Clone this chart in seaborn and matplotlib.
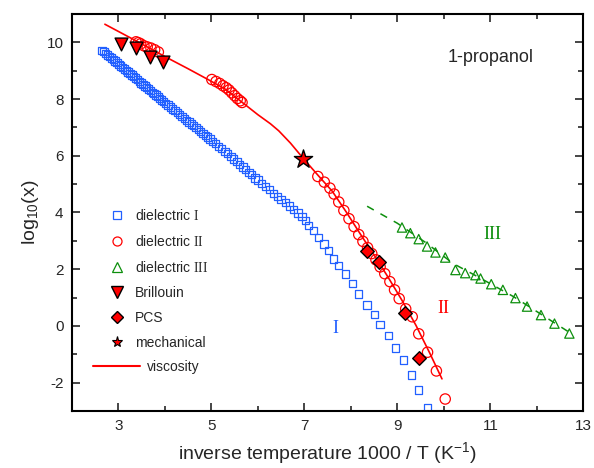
import seaborn as sns
import pandas as pd
import numpy as np
import matplotlib.pyplot as plt
from matplotlib.lines import Line2D
from matplotlib.ticker import MultipleLocator

sns.set_style("ticks")
plt.rcParams['font.family'] = ['Liberation Sans', 'DejaVu Sans']
plt.rcParams['mathtext.fontset'] = 'custom'
plt.rcParams['mathtext.rm'] = 'Liberation Serif'
plt.rcParams['mathtext.sf'] = 'Liberation Sans'
plt.rcParams['axes.unicode_minus'] = False

# dielectric I (blue open squares)
diel1_x = [2.65, 2.69, 2.73, 2.77, 2.81, 2.85, 2.89, 2.93, 2.97, 3.01, 3.05, 3.09, 3.13, 3.17,
           3.21, 3.25, 3.29, 3.33, 3.37, 3.41, 3.45, 3.49, 3.53, 3.57, 3.61, 3.65, 3.69, 3.73,
           3.77, 3.81, 3.85, 3.89, 3.93, 3.97, 4.02, 4.07, 4.12, 4.17, 4.22, 4.27, 4.32, 4.37,
           4.42, 4.47, 4.52, 4.57, 4.62, 4.67, 4.72, 4.77, 4.82, 4.87, 4.92, 4.97, 5.03, 5.09,
           5.16, 5.22, 5.29, 5.35, 5.42, 5.48, 5.55, 5.61, 5.68, 5.74, 5.81, 5.87, 5.94, 6.00,
           6.08, 6.16, 6.25, 6.33, 6.42, 6.50, 6.59, 6.68, 6.77, 6.86, 6.95, 7.02, 7.09, 7.20,
           7.31, 7.42, 7.52, 7.63, 7.74, 7.88, 8.03, 8.17, 8.35, 8.51, 8.63, 8.81, 8.96, 9.13,
           9.30, 9.45, 9.65]
diel1_y = [9.72, 9.67, 9.61, 9.56, 9.50, 9.45, 9.39, 9.34, 9.28, 9.23, 9.17, 9.12, 9.06, 9.01,
           8.96, 8.90, 8.85, 8.79, 8.74, 8.68, 8.63, 8.57, 8.52, 8.46, 8.41, 8.35, 8.30, 8.24,
           8.19, 8.14, 8.08, 8.03, 7.97, 7.92, 7.85, 7.79, 7.72, 7.65, 7.59, 7.52, 7.45, 7.39,
           7.32, 7.25, 7.19, 7.12, 7.06, 6.99, 6.92, 6.86, 6.79, 6.72, 6.66, 6.59, 6.51, 6.43,
           6.33, 6.25, 6.15, 6.07, 5.97, 5.89, 5.79, 5.70, 5.60, 5.51, 5.41, 5.33, 5.22, 5.14,
           5.03, 4.92, 4.80, 4.68, 4.56, 4.45, 4.35, 4.23, 4.10, 3.98, 3.86, 3.71, 3.53, 3.36,
           3.12, 2.89, 2.65, 2.36, 2.12, 1.83, 1.50, 1.12, 0.74, 0.39, 0.04, -0.35, -0.78, -1.20,
           -1.73, -2.26, -2.90]

# dielectric II (red open circles)
diel2_x = [3.38, 3.43, 3.48, 3.55, 3.62, 3.70, 3.78, 3.86,
           5.01, 5.10, 5.18, 5.25, 5.32, 5.38, 5.44, 5.50, 5.56, 5.62, 5.66,
           7.29, 7.43, 7.55, 7.64, 7.74, 7.85, 7.96, 8.07, 8.17, 8.26, 8.36, 8.45, 8.54,
           8.63, 8.73, 8.84, 8.94, 9.04, 9.18, 9.32, 9.46, 9.65, 9.84, 10.03]
diel2_y = [10.02, 9.99, 9.95, 9.88, 9.84, 9.80, 9.74, 9.66,
           8.69, 8.62, 8.55, 8.47, 8.40, 8.32, 8.22, 8.12, 8.02, 7.94, 7.88,
           5.27, 5.07, 4.86, 4.65, 4.37, 4.07, 3.78, 3.50, 3.22, 2.98, 2.76, 2.55, 2.33,
           2.08, 1.84, 1.56, 1.27, 0.96, 0.60, 0.32, -0.28, -0.93, -1.59, -2.58]

# dielectric III (green open triangles) and dashed guide
diel3_x = [9.10, 9.28, 9.46, 9.64, 9.82, 10.03, 10.25, 10.46, 10.68, 10.79, 11.02, 11.27,
           11.54, 11.79, 12.09, 12.38, 12.70]
diel3_y = [3.47, 3.27, 3.06, 2.80, 2.59, 2.41, 1.97, 1.86, 1.79, 1.67, 1.47, 1.27,
           0.98, 0.68, 0.38, 0.08, -0.27]
fit3_x = [8.35, 9.0, 9.6, 10.2, 10.8, 11.5, 12.1, 12.72]
fit3_y = [4.22, 3.62, 2.95, 2.2, 1.67, 1.03, 0.40, -0.25]

# Brillouin, PCS, mechanical
bril_x = [3.06, 3.37, 3.69, 3.97]
bril_y = [9.95, 9.80, 9.48, 9.30]
pcs_x = [8.35, 8.61, 9.17, 9.47]
pcs_y = [2.65, 2.24, 0.45, -1.12]
mech_x = [6.98]
mech_y = [5.90]

# viscosity (red line)
visc_x = [2.71, 3.5, 4.0, 4.5, 4.94, 5.3, 5.69, 6.0, 6.27, 6.45, 6.7, 6.98, 7.3, 7.6,
          7.9, 8.2, 8.5, 8.8, 9.1, 9.4, 9.7, 9.96]
visc_y = [10.64, 9.95, 9.5, 9.07, 8.68, 8.35, 7.85, 7.45, 7.13, 6.88, 6.45, 5.9, 5.3, 4.75,
          4.02, 3.25, 2.5, 1.72, 0.9, 0.02, -0.97, -1.87]

blue = '#2260ff'
red = '#ff0000'
green = '#0d8f0d'

fig = plt.figure(figsize=(5.94, 4.68), dpi=100)
ax = fig.add_axes([0.121, 0.122, 0.861, 0.848])

sns.scatterplot(x=diel1_x, y=diel1_y, marker='s', s=28, facecolors='none', edgecolor=blue,
                linewidth=0.9, ax=ax, zorder=2)
sns.scatterplot(x=diel2_x, y=diel2_y, marker='o', s=55, facecolors='none', edgecolor=red,
                linewidth=0.9, ax=ax, zorder=2)
sns.lineplot(x=visc_x, y=visc_y, color=red, lw=1.2, sort=False, ax=ax, zorder=3)
sns.lineplot(x=fit3_x, y=fit3_y, color=green, lw=1.1, sort=False, dashes=False, ax=ax,
             zorder=2).lines[-1].set_dashes([5, 5])
sns.scatterplot(x=diel3_x, y=diel3_y, marker='^', s=45, facecolors='none', edgecolor=green,
                linewidth=0.9, ax=ax, zorder=3)
sns.scatterplot(x=bril_x, y=bril_y, marker='v', s=85, color=red, edgecolor='black',
                linewidth=1.0, ax=ax, zorder=4)
sns.scatterplot(x=pcs_x, y=pcs_y, marker='D', s=48, color=red, edgecolor='black',
                linewidth=1.0, ax=ax, zorder=4)
sns.scatterplot(x=mech_x, y=mech_y, marker='*', s=190, color=red, edgecolor='black',
                linewidth=1.0, ax=ax, zorder=5)

ax.set_xlim(2, 13)
ax.set_ylim(-3, 11)
ax.xaxis.set_minor_locator(MultipleLocator(1))
ax.set_xticks([3, 5, 7, 9, 11, 13])
ax.yaxis.set_major_locator(MultipleLocator(2))
ax.yaxis.set_minor_locator(MultipleLocator(1))
ax.tick_params(which='both', direction='in', top=True, right=True, width=1.2, labelsize=11)
ax.tick_params(which='major', length=6, pad=6)
ax.tick_params(which='minor', length=3.5)
for sp in ax.spines.values():
    sp.set_linewidth(1.5)
    sp.set_color('black')

ax.set_xlabel('inverse temperature 1000 / T (K$^{\\mathsf{-1}}$)', fontsize=14, labelpad=5)
ax.set_ylabel('log$_{\\mathsf{10}}$(x)', fontsize=14, labelpad=4)

ax.text(11.0, 9.45, '1-propanol', fontsize=13, ha='center', va='center')
ax.text(7.67, -0.1, 'I', color=blue, fontsize=13, family='Liberation Serif', ha='center', va='center')
ax.text(9.99, 0.6, 'II', color=red, fontsize=13, family='Liberation Serif', ha='center', va='center')
ax.text(11.04, 3.24, 'III', color=green, fontsize=13, family='Liberation Serif', ha='center', va='center')

handles = [
    Line2D([], [], ls='', marker='s', mfc='none', mec=blue, ms=5.5, mew=0.9),
    Line2D([], [], ls='', marker='o', mfc='none', mec=red, ms=6.5, mew=0.9),
    Line2D([], [], ls='', marker='^', mfc='none', mec=green, ms=6.5, mew=0.9),
    Line2D([], [], ls='', marker='v', mfc=red, mec='black', ms=8, mew=1.0),
    Line2D([], [], ls='', marker='D', mfc=red, mec='black', ms=6, mew=1.0),
    Line2D([], [], ls='', marker='*', mfc=red, mec='black', ms=8, mew=0.8),
]
labels = ['dielectric $\\mathrm{I}$', 'dielectric $\\mathrm{II}$', 'dielectric $\\mathrm{III}$',
          'Brillouin', 'PCS', 'mechanical']
leg1 = ax.legend(handles, labels, loc='upper left', bbox_to_anchor=(0.074, 0.511), frameon=False,
                 fontsize=10, handlelength=1.0, handletextpad=0.8, labelspacing=0.79, borderpad=0,
                 borderaxespad=0)
ax.add_artist(leg1)
ax.legend([Line2D([], [], color=red, lw=1.5)], ['viscosity'], loc='upper left',
          bbox_to_anchor=(0.041, 0.128), frameon=False, fontsize=10, handlelength=3.4,
          handletextpad=0.5, borderpad=0, borderaxespad=0)

plt.savefig('out.png', dpi=100)
